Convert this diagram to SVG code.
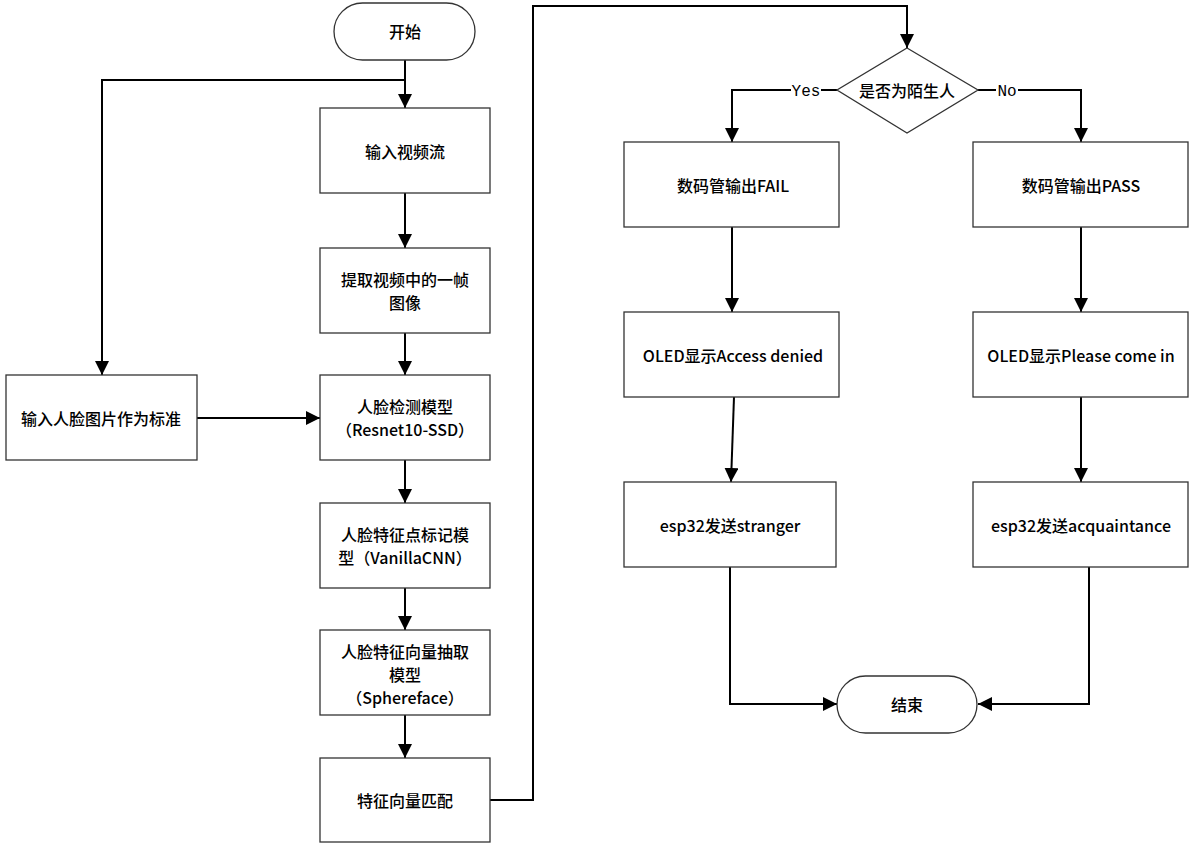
<svg xmlns="http://www.w3.org/2000/svg" width="1194" height="846" viewBox="0 0 1194 846">
<style>
.box{fill:#fff;stroke:#333;stroke-width:1.3}
.t{font-family:"Noto Sans CJK SC","Liberation Sans",sans-serif;font-size:16px;font-weight:500;fill:#000;text-anchor:middle;dominant-baseline:central}
.c{fill:none;stroke:#000;stroke-width:2}
.lbl{font-family:"Liberation Mono","Noto Sans CJK SC",monospace;font-size:16px;fill:#000;text-anchor:middle;dominant-baseline:central}
</style>
<defs>
<marker id="ah" markerUnits="userSpaceOnUse" markerWidth="14" markerHeight="14" refX="14" refY="7" orient="auto">
<path d="M0,0 L14,7 L0,14 z" fill="#000"/>
</marker>
</defs>
<rect width="1194" height="846" fill="#fff"/>
<g id="connectors">
<path class="c" d="M405,60 V108" marker-end="url(#ah)"/>
<path class="c" d="M405,80 H102 V375" marker-end="url(#ah)"/>
<path class="c" d="M405,193 V248" marker-end="url(#ah)"/>
<path class="c" d="M405,333 V375" marker-end="url(#ah)"/>
<path class="c" d="M197,418 H320" marker-end="url(#ah)"/>
<path class="c" d="M405,460 V503" marker-end="url(#ah)"/>
<path class="c" d="M405,588 V630" marker-end="url(#ah)"/>
<path class="c" d="M405,715 V758" marker-end="url(#ah)"/>
<path class="c" d="M490,800 H533 V6 H907 V48" marker-end="url(#ah)"/>
<path class="c" d="M837,90 H732 V142" marker-end="url(#ah)"/>
<path class="c" d="M978,90 H1081 V142" marker-end="url(#ah)"/>
<path class="c" d="M732,227 V312" marker-end="url(#ah)"/>
<path class="c" d="M1081,227 V312" marker-end="url(#ah)"/>
<path class="c" d="M734,397 L731,482" marker-end="url(#ah)"/>
<path class="c" d="M1081,397 V482" marker-end="url(#ah)"/>
<path class="c" d="M730,567 V704 H837" marker-end="url(#ah)"/>
<path class="c" d="M1089,567 V704 H978" marker-end="url(#ah)"/>
<rect x="791" y="82" width="30" height="18" fill="#fff"/>
<rect x="996" y="82" width="22" height="18" fill="#fff"/>
<text class="lbl" x="806" y="92">Yes</text>
<text class="lbl" x="1007" y="92">No</text>
</g>
<g id="start"><rect class="box" x="334" y="3" width="141" height="57" rx="28.5"/><text class="t" x="405" y="31">开始</text></g>
<g id="video"><rect class="box" x="320" y="108" width="170" height="85"/><text class="t" x="405" y="151">输入视频流</text></g>
<g id="frame"><rect class="box" x="320" y="248" width="170" height="85"/><text class="t" x="405" y="279">提取视频中的一帧</text><text class="t" x="405" y="302">图像</text></g>
<g id="refimg"><rect class="box" x="6" y="375" width="191" height="85"/><text class="t" x="101" y="418">输入人脸图片作为标准</text></g>
<g id="detect"><rect class="box" x="320" y="375" width="170" height="85"/><text class="t" x="405" y="406">人脸检测模型</text><text class="t" x="405" y="429">（Resnet10-SSD）</text></g>
<g id="landmark"><rect class="box" x="320" y="503" width="170" height="85"/><text class="t" x="405" y="534">人脸特征点标记模</text><text class="t" x="405" y="557">型（VanillaCNN）</text></g>
<g id="feature"><rect class="box" x="320" y="630" width="170" height="85"/><text class="t" x="405" y="651">人脸特征向量抽取</text><text class="t" x="405" y="674">模型</text><text class="t" x="405" y="697">（Sphereface）</text></g>
<g id="match"><rect class="box" x="320" y="758" width="170" height="84"/><text class="t" x="405" y="800">特征向量匹配</text></g>
<g id="decision"><polygon class="box" points="907,48 978,90 907,133 837,90"/><text class="t" x="907" y="90">是否为陌生人</text></g>
<g id="fail"><rect class="box" x="624" y="142" width="215" height="85"/><text class="t" x="733" y="185">数码管输出FAIL</text></g>
<g id="pass"><rect class="box" x="973" y="142" width="215" height="85"/><text class="t" x="1081" y="185">数码管输出PASS</text></g>
<g id="denied"><rect class="box" x="624" y="312" width="215" height="85"/><text class="t" x="733" y="355">OLED显示Access denied</text></g>
<g id="welcome"><rect class="box" x="973" y="312" width="215" height="85"/><text class="t" x="1081" y="355">OLED显示Please come in</text></g>
<g id="stranger"><rect class="box" x="624" y="482" width="212" height="85"/><text class="t" x="730" y="525">esp32发送stranger</text></g>
<g id="acq"><rect class="box" x="973" y="482" width="215" height="85"/><text class="t" x="1081" y="525">esp32发送acquaintance</text></g>
<g id="end"><rect class="box" x="837" y="676" width="140" height="57" rx="28.5"/><text class="t" x="907" y="704">结束</text></g>
</svg>
